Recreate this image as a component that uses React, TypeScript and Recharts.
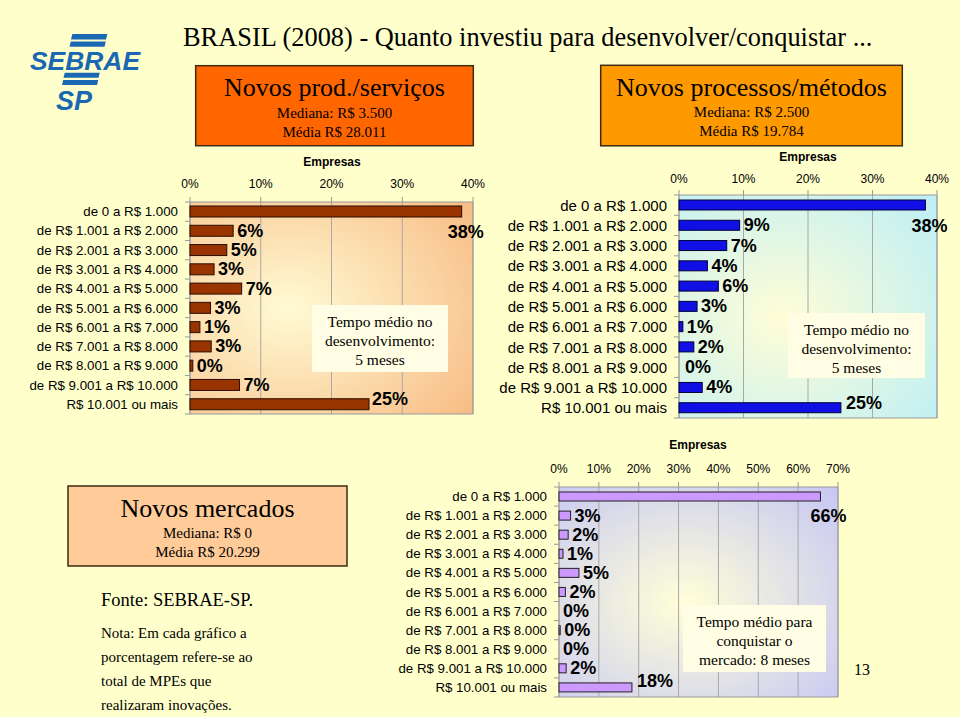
import React from "react";
import { BarChart, Bar, XAxis, YAxis, CartesianGrid, LabelList, ReferenceArea } from "recharts";

const SANS = "'Liberation Sans', Arial, sans-serif";
const SERIF = "'Liberation Serif', 'Times New Roman', serif";

// faixas de investimento (categorias)
const faixas = [
  "de 0 a R$ 1.000",
  "de R$ 1.001 a R$ 2.000",
  "de R$ 2.001 a R$ 3.000",
  "de R$ 3.001 a R$ 4.000",
  "de R$ 4.001 a R$ 5.000",
  "de R$ 5.001 a R$ 6.000",
  "de R$ 6.001 a R$ 7.000",
  "de R$ 7.001 a R$ 8.000",
  "de R$ 8.001 a R$ 9.000",
  "de R$ 9.001 a R$ 10.000",
  "R$ 10.001 ou mais",
];

// % de empresas
const prodServicos = [38.4, 6.1, 5.2, 3.4, 7.3, 2.9, 1.4, 3.0, 0.4, 7.0, 25.3];
const processos = [38.2, 9.4, 7.4, 4.4, 6.1, 2.8, 0.6, 2.3, 0, 3.6, 25.1];
const mercados = [65.6, 2.9, 2.3, 1.0, 5.0, 1.6, 0, 0.3, 0, 1.8, 18.3];

const ticks40 = [0, 10, 20, 30, 40];
const ticks70 = [0, 10, 20, 30, 40, 50, 60, 70];

type ChartProps = {
  id: string;
  values: number[];
  ticks: number[];
  left: number;
  top: number;
  width: number;
  height: number;
  yWidth: number;
  margin: { top: number; right: number; bottom: number; left: number };
  barSize: number;
  fill: string;
  stroke: string;
  grad: [string, string];
  gradCenter: [number, number];
  catFont: number;
  tickMargin: number;
  nudges: Record<number, [number, number]>;
};

function InvestChart(p: ChartProps) {
  const data = faixas.map((name, i) => ({ name, v: p.values[i] }));
  const max = p.ticks[p.ticks.length - 1];
  const plotH = p.height - p.margin.top - 30 - p.margin.bottom;
  const band = plotH / faixas.length;
  const plotLeft = p.margin.left + p.yWidth;
  const last = faixas[faixas.length - 1];

  const catTick = (t: any) => (
    <g>
      <text x={plotLeft - 12} y={t.y} textAnchor="end" dominantBaseline="central" fontSize={p.catFont} fontFamily={SANS} fill="#000">
        {t.payload.value}
      </text>
      <line x1={plotLeft - 5} x2={plotLeft} y1={t.y - band / 2} y2={t.y - band / 2} stroke="#999" />
      {t.payload.value === last && (
        <line x1={plotLeft - 5} x2={plotLeft} y1={t.y + band / 2} y2={t.y + band / 2} stroke="#999" />
      )}
    </g>
  );

  // bars with 0% keep a hair-width rect so the label still shows, but draw nothing
  const barShape = (sp: any) =>
    sp.width < 0.5 ? <g /> : (
      <rect x={sp.x} y={sp.y} width={sp.width} height={sp.height} fill={p.fill} stroke={p.stroke} strokeWidth={1} />
    );

  const renderLabel = (lp: any) => {
    const { x, y, width, height, value, index } = lp;
    const [dx, dy] = p.nudges[index] || [0, 0];
    const w = width < 0.5 ? 0 : width;
    return (
      <text x={x + w + 4 + dx} y={y + height / 2 + dy} dominantBaseline="central" fontSize={18} fontWeight="bold" fontFamily={SANS} fill="#000">
        {Math.round(value)}%
      </text>
    );
  };

  return (
    <div style={{ position: "absolute", left: p.left, top: p.top }}>
      <BarChart width={p.width} height={p.height} data={data} layout="vertical" margin={p.margin} barSize={p.barSize}>
        <defs>
          <radialGradient id={`${p.id}-bg`} cx={p.gradCenter[0]} cy={p.gradCenter[1]} r={0.8}>
            <stop offset="0%" stopColor={p.grad[0]} />
            <stop offset="100%" stopColor={p.grad[1]} />
          </radialGradient>
        </defs>
        <CartesianGrid horizontal={false} stroke="#a8a8a8" fill={`url(#${p.id}-bg)`} fillOpacity={1} />
        <XAxis
          type="number"
          orientation="top"
          domain={[0, max]}
          ticks={p.ticks}
          interval={0}
          height={30}
          axisLine={false}
          tickLine={{ stroke: "#999" }}
          tickSize={5}
          tickMargin={p.tickMargin}
          tickFormatter={(v) => `${v}%`}
          tick={{ fontSize: 12, fill: "#000", fontFamily: SANS }}
        />
        <YAxis type="category" dataKey="name" width={p.yWidth} axisLine={false} tickLine={false} interval={0} tick={catTick} />
        <ReferenceArea x1={0} x2={max} fill="none" stroke="#999" strokeWidth={1} ifOverflow="visible" />
        <Bar dataKey="v" fill={p.fill} stroke={p.stroke} strokeWidth={1} minPointSize={0.01} shape={barShape} isAnimationActive={false}>
          <LabelList dataKey="v" content={renderLabel} />
        </Bar>
      </BarChart>
    </div>
  );
}

function Slant({ x, y, w, h }: { x: number; y: number; w: number; h: number }) {
  const s = h * 0.25;
  return <polygon points={`${x + s},${y} ${x + w + s},${y} ${x + w},${y + h} ${x},${y + h}`} fill="#1a68b3" />;
}

function InfoBox({ x, y, w, h, fill, title, med, media }: any) {
  const cx = x + w / 2;
  return (
    <g>
      <rect x={x} y={y} width={w} height={h} fill={fill} stroke="#3d2a10" strokeWidth={1.5} />
      <text x={cx} y={y + 22} textAnchor="middle" dominantBaseline="central" fontSize={26} fontFamily={SERIF}>{title}</text>
      <text x={cx} y={y + 47} textAnchor="middle" dominantBaseline="central" fontSize={15} fontFamily={SERIF}>{med}</text>
      <text x={cx} y={y + 66} textAnchor="middle" dominantBaseline="central" fontSize={15} fontFamily={SERIF}>{media}</text>
    </g>
  );
}

function TempoBox({ x, y, w, h, lines }: { x: number; y: number; w: number; h: number; lines: string[] }) {
  const cx = x + w / 2;
  return (
    <g>
      <rect x={x} y={y} width={w} height={h} fill="#fffde3" />
      {lines.map((l, i) => (
        <text key={i} x={cx} y={y + 16 + i * 19} textAnchor="middle" dominantBaseline="central" fontSize={15.5} fontFamily={SERIF}>
          {l}
        </text>
      ))}
    </g>
  );
}

export default function App() {
  return (
    <div style={{ position: "absolute", left: 0, top: 0, width: 960, height: 717, background: "#ffffcc", overflow: "hidden" }}>
      <svg width={960} height={717} style={{ position: "absolute", left: 0, top: 0 }}>
        {/* logo */}
        <Slant x={71} y={34} w={35} h={5.5} />
        <Slant x={69.5} y={41.5} w={35} h={5.2} />
        <text x={30} y={69.5} fontSize={25} fontWeight="bold" fontStyle="italic" fontFamily={SANS} fill="#1a68b3" textLength={110} lengthAdjust="spacingAndGlyphs">SEBRAE</text>
        <Slant x={63.5} y={72.7} w={35} h={5} />
        <Slant x={62} y={80} w={35} h={5} />
        <text x={56} y={110} fontSize={28} fontWeight="bold" fontStyle="italic" fontFamily={SANS} fill="#1a68b3" textLength={36} lengthAdjust="spacingAndGlyphs">SP</text>

        <text x={183} y={37} dominantBaseline="central" fontSize={26.4} fontFamily={SERIF}>
          BRASIL (2008) - Quanto investiu para desenvolver/conquistar ...
        </text>

        <InfoBox x={195.7} y={65.7} w={277.6} h={80} fill="#ff6600" title="Novos prod./serviços" med="Mediana: R$ 3.500" media="Média R$ 28.011" />
        <InfoBox x={600.7} y={65.3} w={301.6} h={80.5} fill="#ff9900" title="Novos processos/métodos" med="Mediana: R$ 2.500" media="Média R$ 19.784" />
        <InfoBox x={68} y={486} w={279} h={80} fill="#ffcc99" title="Novos mercados" med="Mediana: R$ 0" media="Média R$ 20.299" />

        <text x={332} y={162} textAnchor="middle" dominantBaseline="central" fontSize={12} fontWeight="bold" fontFamily={SANS}>Empresas</text>
        <text x={808} y={157} textAnchor="middle" dominantBaseline="central" fontSize={12} fontWeight="bold" fontFamily={SANS}>Empresas</text>
        <text x={698} y={445} textAnchor="middle" dominantBaseline="central" fontSize={12} fontWeight="bold" fontFamily={SANS}>Empresas</text>

        <text x={101} y={600} dominantBaseline="central" fontSize={18.5} fontFamily={SERIF}>Fonte: SEBRAE-SP.</text>
        {["Nota: Em cada gráfico a", "porcentagem refere-se ao", "total de MPEs que", "realizaram inovações."].map((l, i) => (
          <text key={i} x={101} y={633 + i * 24} dominantBaseline="central" fontSize={15} fontFamily={SERIF}>{l}</text>
        ))}
        <text x={862} y={669} textAnchor="middle" dominantBaseline="central" fontSize={16} fontFamily={SERIF}>13</text>
      </svg>

      <InvestChart
        id="c1"
        values={prodServicos}
        ticks={ticks40}
        left={0}
        top={150}
        width={490}
        height={280}
        yWidth={190}
        margin={{ top: 22, right: 17, bottom: 16, left: 0 }}
        barSize={11}
        fill="#993300"
        stroke="#2a0d00"
        grad={["#fffbd4", "#f8bd86"]}
        gradCenter={[0.35, 0.5]}
        catFont={13.3}
        tickMargin={9}
        nudges={{ 0: [-18, 20], 10: [-1, -5] }}
      />
      <InvestChart
        id="c2"
        values={processos}
        ticks={ticks40}
        left={480}
        top={150}
        width={480}
        height={280}
        yWidth={199}
        margin={{ top: 15, right: 23, bottom: 12, left: 0 }}
        barSize={10}
        fill="#1010e6"
        stroke="#000033"
        grad={["#fffdd6", "#bdeff6"]}
        gradCenter={[0.4, 0.55]}
        catFont={15}
        tickMargin={7}
        nudges={{ 0: [-18, 21], 8: [2, 0], 10: [1, -5] }}
      />
      <InvestChart
        id="c3"
        values={mercados}
        ticks={ticks70}
        left={380}
        top={430}
        width={480}
        height={287}
        yWidth={179}
        margin={{ top: 27, right: 22, bottom: 20, left: 0 }}
        barSize={9}
        fill="#cc99ff"
        stroke="#222222"
        grad={["#ffffd8", "#c4c4f6"]}
        gradCenter={[0.45, 0.55]}
        catFont={13.3}
        tickMargin={9}
        nudges={{ 0: [-14, 19], 10: [1, -6] }}
      />

      <svg width={960} height={717} style={{ position: "absolute", left: 0, top: 0, pointerEvents: "none" }}>
        <TempoBox x={312} y={305} w={136} h={67} lines={["Tempo médio no", "desenvolvimento:", "5 meses"]} />
        <TempoBox x={788} y={313} w={137} h={65} lines={["Tempo médio no", "desenvolvimento:", "5 meses"]} />
        <TempoBox x={683} y={605} w={143} h={67} lines={["Tempo médio para", "conquistar o", "mercado: 8 meses"]} />
      </svg>
    </div>
  );
}
